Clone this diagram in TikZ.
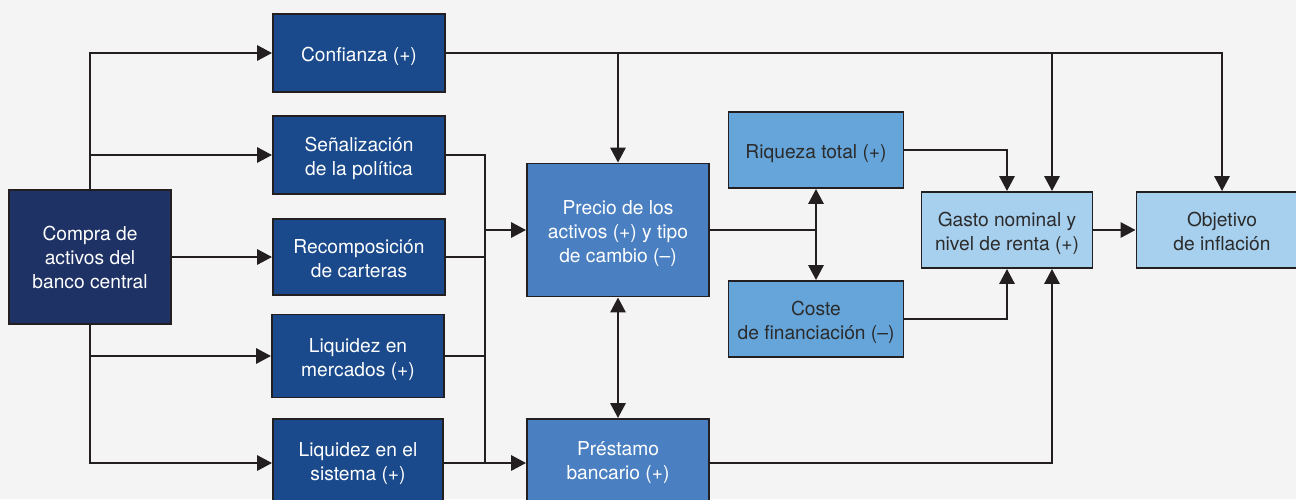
\documentclass[tikz,border=0pt]{standalone}
\usepackage{fontspec}
\setmainfont{TeX Gyre Heros}
\usetikzlibrary{arrows.meta}
\definecolor{bg}{HTML}{F4F4F4}
\definecolor{navy}{HTML}{1F3265}
\definecolor{colb}{HTML}{1A4A8C}
\definecolor{midb}{HTML}{4A80C2}
\definecolor{ltb}{HTML}{66A5DA}
\definecolor{paleb}{HTML}{A7CFEE}
\definecolor{ink}{HTML}{231F20}
\definecolor{dtext}{HTML}{2B2B2B}
\newcommand{\boxtext}[2][7.5pt]{\raisebox{0pt}[\dimexpr\height+#1\relax][\depth]{\begin{tabular}{@{}c@{}}#2\end{tabular}}}
\tikzset{
  box/.style={draw=ink, line width=1.8pt, inner sep=0pt,
    font=\fontsize{19.2}{24}\selectfont},
  darkbox/.style={box, text=white},
  lightbox/.style={box, text=dtext},
  ln/.style={draw=ink, line width=2.9pt},
  arr/.style={ln, -{Triangle[length=15pt,width=15pt]}},
  darr/.style={ln, {Triangle[length=15pt,width=15pt]}-{Triangle[length=15pt,width=15pt]}},
}
\begin{document}
\begin{tikzpicture}[x=1pt,y=-1pt]
\useasboundingbox (0,0) rectangle (1296,499);
\clip (0,0) rectangle (1296,499);
\fill[bg] (0,0) rectangle (1296,499);

\node[darkbox, fill=navy, minimum width=162pt, minimum height=134pt] (compra) at (90,257) {\boxtext[6pt]{Compra de\\activos del\\banco central}};
\node[darkbox, fill=colb, minimum width=172pt, minimum height=78pt] (conf) at (359,53) {\boxtext{Confianza (+)}};
\node[darkbox, fill=colb, minimum width=172pt, minimum height=78pt] (senal) at (359,155) {\boxtext{Señalización\\de la política}};
\node[darkbox, fill=colb, minimum width=172pt, minimum height=76pt] (recomp) at (359,257) {\boxtext{Recomposición\\de carteras}};
\node[darkbox, fill=colb, minimum width=172pt, minimum height=83pt] (liqm) at (358,356) {\boxtext{Liquidez en\\mercados (+)}};
\node[darkbox, fill=colb, minimum width=170pt, minimum height=88pt] (liqs) at (358,463) {\boxtext[1pt]{Liquidez en el\\sistema (+)}};
\node[darkbox, fill=midb, minimum width=182pt, minimum height=133pt] (precio) at (618,230) {\boxtext{Precio de los\\activos (+) y tipo\\de cambio (--)}};
\node[darkbox, fill=midb, minimum width=182pt, minimum height=88pt] (prest) at (618,463) {\boxtext[0pt]{Préstamo\\bancario (+)}};
\node[lightbox, fill=ltb, minimum width=175pt, minimum height=76pt] (riq) at (816,150) {\boxtext{Riqueza total (+)}};
\node[lightbox, fill=ltb, minimum width=175pt, minimum height=76pt] (coste) at (816,319) {\boxtext{Coste\\de financiación (--)}};
\node[lightbox, fill=paleb, minimum width=171pt, minimum height=76pt] (gasto) at (1007,230) {\boxtext{Gasto nominal y\\nivel de renta (+)}};
\node[lightbox, fill=paleb, minimum width=171pt, minimum height=76pt] (obj) at (1222,230) {\boxtext{Objetivo\\de inflación}};

\coordinate (jx) at (485,0);
\coordinate (gx) at (1052,0);

% from Compra
\draw[arr] (compra.north) |- (conf.west);
\draw[arr] (compra.north |- senal.west) -- (senal.west);
\draw[arr] (compra.east) -- (recomp.west);
\draw[arr] (compra.south) |- (liqs.west);
\draw[arr] (compra.south |- liqm.west) -- (liqm.west);

% collector
\draw[ln] (senal.east) -- (jx |- senal.east) -- (jx |- liqs.east);
\draw[ln] (recomp.east) -- (jx |- recomp.east);
\draw[ln] (liqm.east) -- (jx |- liqm.east);
\draw[arr] (liqs.east) -- (prest.west);
\draw[arr] (jx |- precio.west) -- (precio.west);

% Confianza line
\draw[arr] (conf.east) -| (obj.north);
\draw[arr] (precio.north |- conf.east) -- (precio.north);
\draw[arr] (gx |- conf.east) -- (gx |- gasto.north);

% Precio
\draw[ln] (precio.east) -- (riq.south |- precio.east);
\draw[darr] (riq.south) -- (coste.north);
\draw[darr] (precio.south) -- (prest.north);

% to Gasto
\draw[arr] (riq.east) -| (gasto.north);
\draw[arr] (coste.east) -| (gasto.south);
\draw[arr] (prest.east) -| (gx |- gasto.south);
\draw[arr] (gasto.east) -- (obj.west);
\end{tikzpicture}
\end{document}
